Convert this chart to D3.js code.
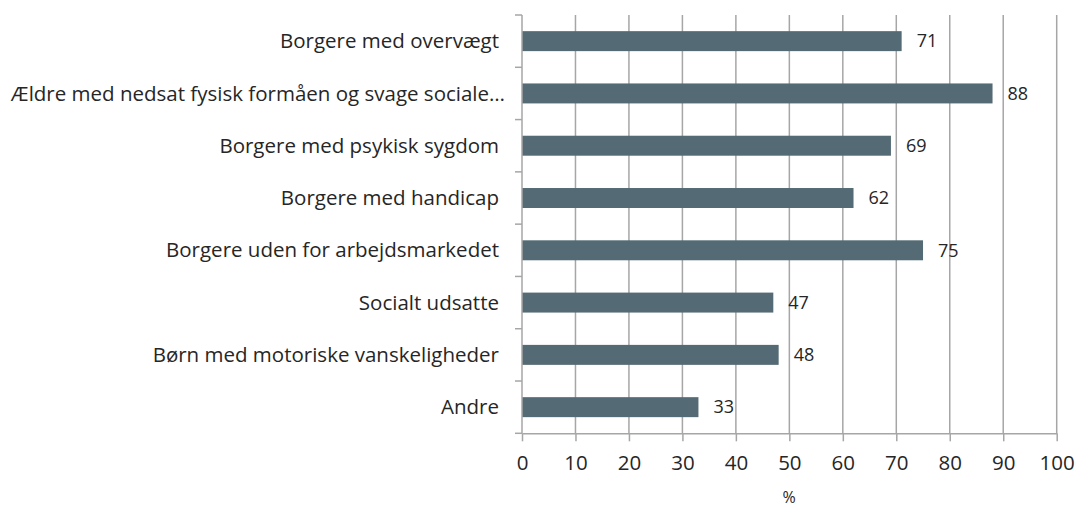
<!DOCTYPE html>
<html><head><meta charset="utf-8">
<script src="https://cdn.jsdelivr.net/npm/d3@7"></script>
<style>body{margin:0;background:#fff}svg{display:block}</style>
</head><body>
<svg id="c" width="1076" height="507"></svg>
<script>
const categories = [
  "Borgere med overvægt",
  "Ældre med nedsat fysisk formåen og svage sociale…",
  "Borgere med psykisk sygdom",
  "Borgere med handicap",
  "Borgere uden for arbejdsmarkedet",
  "Socialt udsatte",
  "Børn med motoriske vanskeligheder",
  "Andre"
];
const values = [71, 88, 69, 62, 75, 47, 48, 33];
const xTicks = [0,10,20,30,40,50,60,70,80,90,100];
const xTitle = "%";

const svg = d3.select("#c");
const font = "'Open Sans', sans-serif";
const textColor = "#262626";
const gridColor = "#a6a6a6";
const x = d3.scaleLinear().domain([0,100]).range([522,1056.7]);
const y = d3.scaleBand().domain(categories).range([15,433.3]).paddingInner(0.618).paddingOuter(0.309);
const yb = d3.scaleBand().domain(categories).range([15,433.3]);

// grid
svg.append("g").selectAll("line").data(xTicks.filter(d=>d>0)).join("line")
  .attr("x1",d=>x(d)).attr("x2",d=>x(d)).attr("y1",15).attr("y2",433.3)
  .attr("stroke",gridColor).attr("stroke-width",1.5);

// bars
svg.append("g").selectAll("rect").data(values).join("rect")
  .attr("x",x(0)).attr("y",(d,i)=>y(categories[i]))
  .attr("width",d=>x(d)-x(0)).attr("height",y.bandwidth())
  .attr("fill","#546b75");

// x axis
const xa = svg.append("g").attr("transform","translate(0,433.3)")
  .call(d3.axisBottom(x).tickValues(xTicks).tickSize(8).tickPadding(14).tickSizeOuter(0));
xa.select(".domain").attr("stroke",gridColor).attr("stroke-width",1.5);
xa.selectAll(".tick line").attr("stroke",gridColor).attr("stroke-width",1.5);
xa.selectAll("text").attr("font-family",font).attr("font-size",20.5).attr("fill",textColor);

// y axis
const boundaries = categories.map(c=>yb(c)).concat([433.3]);
svg.append("line").attr("x1",x(0)).attr("x2",x(0)).attr("y1",15).attr("y2",433.3)
  .attr("stroke",gridColor).attr("stroke-width",1.5);
svg.append("g").selectAll("line").data(boundaries).join("line")
  .attr("x1",x(0)-7).attr("x2",x(0)).attr("y1",d=>d).attr("y2",d=>d)
  .attr("stroke",gridColor).attr("stroke-width",1.5);
svg.append("g").selectAll("text").data(categories).join("text")
  .attr("x",(d,i)=>i===1?505:499).attr("y",d=>yb(d)+yb.bandwidth()/2).attr("dy","0.35em")
  .attr("text-anchor","end").attr("font-family",font).attr("font-size",20.5).attr("fill",textColor)
  .text(d=>d);

// value labels
svg.append("g").selectAll("text").data(values).join("text")
  .attr("x",d=>x(d)+15).attr("y",(d,i)=>yb(categories[i])+yb.bandwidth()/2).attr("dy","0.35em")
  .attr("font-family",font).attr("font-size",18).attr("fill",textColor).text(d=>d);

svg.append("text").attr("x",789).attr("y",497).attr("dy","0.35em").attr("text-anchor","middle")
  .attr("font-family",font).attr("font-size",16).attr("fill",textColor).text(xTitle);
</script>
</body></html>
